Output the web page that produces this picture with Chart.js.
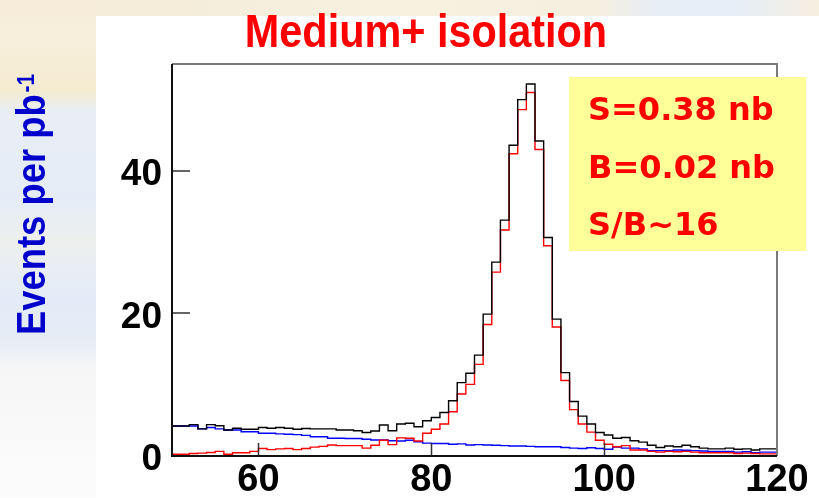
<!DOCTYPE html>
<html lang="en">
<head>
<meta charset="UTF-8">
<title>Medium+ isolation</title>
<script src="https://cdn.jsdelivr.net/npm/chart.js@4.4.0/dist/chart.umd.min.js"></script>
<style>
  html, body { margin: 0; padding: 0; }
  body {
    width: 819px; height: 498px; overflow: hidden; position: relative;
    background: linear-gradient(to bottom, #f6ebd8 0px, #f7efdc 40px, #f4ebcf 90px, #e9eef5 112px,
      #e5ecf7 200px, #eef0ee 240px, #e3ebf8 300px, #e6ecf5 340px, #f6f6f6 368px, #fcfcfc 498px);
  }
  #strip {
    position: absolute; left: 96px; top: 0; width: 723px; height: 16px;
    background: linear-gradient(to right, #f4ecd8 0px, #f8f1e0 300px, #f5efe0 500px,
      #e8eef6 560px, #e6eef8 640px, #f6efe0 720px);
  }
  #panel { position: absolute; left: 96px; top: 16px; width: 723px; height: 482px; background: #fff; }
  #plot { position: absolute; left: 0; top: 0; }
</style>
</head>
<body>
<div id="strip"></div>
<div id="panel"></div>
<canvas id="plot" width="819" height="498"></canvas>
<script>
// invariant mass histogram, 1 GeV bins from 50 to 120
const xMin = 50;
const binWidth = 1;

const total = [
  4.2, 4.4, 3.8, 4.4, 4.25, 3.65, 3.9, 3.75, 3.75, 4.0,
  3.9, 4.0, 3.9, 3.75, 3.85, 3.8, 3.8, 3.8, 3.65, 3.65,
  3.55, 3.3, 3.5, 4.35, 3.55, 4.5, 4.6, 4.1, 4.95, 5.4,
  6.1, 7.75, 10.3, 11.6, 14.15, 19.9, 27.2, 33.1, 43.6, 50.0,
  52.2, 44.2, 30.65, 19.2, 11.7, 7.65, 5.6, 4.5, 3.3, 2.95,
  2.5, 2.6, 2.15, 1.95, 1.5, 1.2, 1.4, 1.3, 1.5, 1.3,
  1.1, 1.0, 1.0, 1.1, 0.95, 1.0, 0.85, 1.0, 1.0, 1.0
];
const signal = [
  0.25, 0.35, 0.4, 0.5, 0.65, 0.25, 0.45, 0.45, 0.65, 1.05,
  0.9, 1.0, 1.05, 0.9, 1.05, 1.25, 1.35, 1.55, 1.45, 1.45,
  1.45, 1.1, 1.5, 2.2, 1.6, 2.55, 2.5, 2.1, 3.2, 3.75,
  4.5, 6.2, 8.7, 10.05, 12.85, 18.45, 25.8, 31.7, 42.4, 48.6,
  51.0, 43.0, 29.5, 18.1, 10.6, 6.5, 4.5, 3.35, 2.2, 1.65,
  1.3, 1.45, 0.85, 0.85, 0.65, 0.55, 0.65, 0.6, 0.65, 0.55,
  0.45, 0.45, 0.45, 0.45, 0.35, 0.4, 0.35, 0.3, 0.3, 0.3
];
const background = [
  4.2, 4.2, 3.8, 4.0, 3.8, 3.65, 3.65, 3.4, 3.4, 3.2,
  3.2, 3.1, 3.05, 3.0, 2.9, 2.7, 2.7, 2.5, 2.5, 2.45,
  2.45, 2.35, 2.25, 2.25, 2.15, 2.1, 2.2, 2.0, 1.8, 1.75,
  1.75, 1.65, 1.7, 1.55, 1.6, 1.55, 1.5, 1.45, 1.4, 1.4,
  1.35, 1.3, 1.3, 1.3, 1.2, 1.1, 1.05, 1.15, 1.05, 0.95,
  1.25, 1.1, 1.1, 1.0, 0.75, 0.75, 0.75, 0.85, 0.8, 0.75,
  0.7, 0.65, 0.65, 0.65, 0.55, 0.6, 0.45, 0.55, 0.55, 0.55
];

const xTicks = [60, 80, 100, 120];
const yTicks = [0, 20, 40];
const boxLines = ['S=0.38 nb', 'B=0.02 nb', 'S/B~16'];

// step outline: each bin value runs from its lower edge to the next edge
function steps(values) {
  const pts = [{ x: xMin, y: values[0] }];
  values.forEach((v, i) => pts.push({ x: xMin + (i + 1) * binWidth, y: v }));
  return pts;
}

function hist(data, color) {
  return {
    data: steps(data),
    borderColor: color,
    borderWidth: 1.4,
    stepped: 'before',
    pointRadius: 0,
    fill: false
  };
}

const decorations = {
  id: 'decorations',
  afterDraw(chart) {
    const { ctx, chartArea: a, scales: { x, y } } = chart;
    ctx.save();

    // ticks pointing into the frame
    ctx.strokeStyle = '#333';
    ctx.lineWidth = 1.5;
    ctx.beginPath();
    xTicks.slice(0, -1).forEach(v => {
      const px = Math.round(x.getPixelForValue(v)) + 0.5;
      ctx.moveTo(px, a.bottom);
      ctx.lineTo(px, a.bottom - 13);
    });
    yTicks.slice(1).forEach(v => {
      const py = Math.round(y.getPixelForValue(v));
      ctx.moveTo(a.left, py);
      ctx.lineTo(a.left + 18, py);
    });
    ctx.stroke();

    // frame
    ctx.lineWidth = 2;
    ctx.strokeStyle = '#7a7a7a';
    ctx.beginPath();
    ctx.moveTo(a.left, a.top);
    ctx.lineTo(a.right, a.top);
    ctx.lineTo(a.right, a.bottom);
    ctx.stroke();
    ctx.strokeStyle = '#111';
    ctx.beginPath();
    ctx.moveTo(a.left, a.top);
    ctx.lineTo(a.left, a.bottom);
    ctx.lineTo(a.right, a.bottom);
    ctx.stroke();

    // yellow note box, laid over the frame
    ctx.fillStyle = '#ffff99';
    ctx.fillRect(569, 77, 237, 174);
    ctx.fillStyle = '#ff0000';
    ctx.font = 'bold 32px "DejaVu Sans"';
    ctx.textAlign = 'left';
    ctx.textBaseline = 'alphabetic';
    boxLines.forEach((t, i) => ctx.fillText(t, 588, 120 + i * 57.5));

    // title
    ctx.fillStyle = '#ff0000';
    ctx.font = 'bold 46px "Liberation Sans", Arial, sans-serif';
    ctx.textAlign = 'center';
    ctx.save();
    ctx.translate(426, 47);
    ctx.scale(0.9, 1);
    ctx.fillText('Medium+ isolation', 0, 0);
    ctx.restore();

    // y axis title with superscript
    ctx.fillStyle = '#0000cc';
    ctx.textAlign = 'left';
    ctx.save();
    ctx.translate(45, 335);
    ctx.rotate(-Math.PI / 2);
    ctx.scale(0.91, 1);
    ctx.font = 'bold 40px "Liberation Sans", Arial, sans-serif';
    ctx.fillText('Events per pb', 0, 0);
    const w = ctx.measureText('Events per pb').width;
    ctx.font = 'bold 23px "Liberation Sans", Arial, sans-serif';
    ctx.fillText('-1', w + 2, -11);
    ctx.restore();

    ctx.restore();
  }
};

new Chart(document.getElementById('plot'), {
  type: 'line',
  data: {
    datasets: [
      hist(total, '#000000'),
      hist(signal, '#ff0000'),
      hist(background, '#0000ff')
    ]
  },
  options: {
    responsive: false,
    animation: false,
    devicePixelRatio: 1,
    layout: { padding: { top: 64, right: 42, left: 0, bottom: 0 } },
    plugins: {
      legend: { display: false },
      tooltip: { enabled: false }
    },
    scales: {
      x: {
        type: 'linear',
        min: 50,
        max: 120,
        afterBuildTicks: s => { s.ticks = xTicks.map(v => ({ value: v })); },
        afterFit: s => { s.height = 42; },
        grid: { display: false, drawTicks: false },
        border: { display: false },
        ticks: {
          padding: 2,
          color: '#000',
          font: { family: '"Liberation Sans", Arial, sans-serif', size: 38, weight: 'bold' }
        }
      },
      y: {
        type: 'linear',
        min: 0,
        max: 55,
        afterBuildTicks: s => { s.ticks = yTicks.map(v => ({ value: v })); },
        afterFit: s => { s.width = 172; },
        grid: { display: false, drawTicks: false },
        border: { display: false },
        ticks: {
          padding: 10,
          labelOffset: 4,
          color: '#000',
          font: { family: '"Liberation Sans", Arial, sans-serif', size: 37, weight: 'bold' }
        }
      }
    }
  },
  plugins: [decorations]
});
</script>
</body>
</html>
